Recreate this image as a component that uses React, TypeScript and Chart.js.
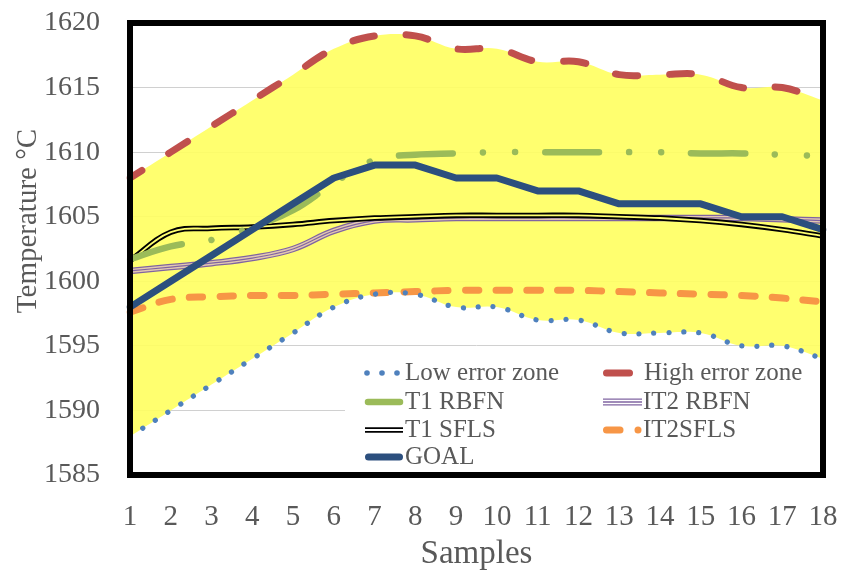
import React, { useEffect, useRef } from "react";
import { Chart, registerables } from "chart.js";

Chart.register(...registerables);

// ---------- data ----------
const samples = ["1", "2", "3", "4", "5", "6", "7", "8", "9", "10", "11", "12", "13", "14", "15", "16", "17", "18"];
const yMin = 1585;
const yMax = 1620;
const yStep = 5;

const lowErrorZone = [1588, 1590, 1592, 1594, 1596, 1598, 1599, 1599, 1598, 1598, 1597, 1597, 1596, 1596, 1596, 1595, 1595, 1594];
const highErrorZone = [1608, 1610, 1612, 1614, 1616, 1618, 1619, 1619, 1618, 1618, 1617, 1617, 1616, 1616, 1616, 1615, 1615, 1614];
const t1Rbfn = [1601.7, 1602.7, 1603.2, 1604.2, 1605.5, 1607.6, 1609.4, 1609.8, 1609.9, 1610, 1610, 1610, 1610, 1610, 1609.9, 1609.9, 1609.8, 1609.7];
const it2Rbfn = [1600.8, 1601.1, 1601.4, 1601.8, 1602.5, 1603.9, 1604.7, 1604.8, 1604.9, 1604.9, 1604.9, 1604.9, 1604.9, 1604.9, 1604.9, 1604.9, 1604.8, 1604.7];
const t1Sfls = [1601.6, 1603.8, 1604.1, 1604.2, 1604.4, 1604.7, 1604.9, 1605.0, 1605.1, 1605.1, 1605.1, 1605.1, 1605.0, 1604.9, 1604.7, 1604.4, 1604.0, 1603.5];
const it2Sfls = [1597.6, 1598.6, 1598.8, 1598.9, 1598.9, 1599.0, 1599.1, 1599.2, 1599.3, 1599.3, 1599.3, 1599.3, 1599.2, 1599.1, 1599.0, 1598.9, 1598.7, 1598.4];
const goal = [1598, 1600, 1602, 1604, 1606, 1608, 1609, 1609, 1608, 1608, 1607, 1607, 1606, 1606, 1606, 1605, 1605, 1604];

const legendLabels = ["Low error zone", "High error zone", "T1 RBFN", "IT2 RBFN", "T1 SFLS", "IT2SFLS", "GOAL"];
const yTitle = "Temperature °C";
const xTitle = "Samples";

// ---------- style ----------
const FONT = "'Liberation Serif', 'Times New Roman', serif";
const TEXT = "#595959";
const YELLOW = "#FFFF70";
const YELLOW_FILL = "rgba(255, 255, 95, 0.9)";
const BLUE_DOT = "#4F81BD";
const RED = "#C0504D";
const GREEN = "#9BBB59";
const PURPLE = "#8064A2";
const PURPLE_LIGHT = "#E3C9B0";
const BLACK = "#000000";
const ORANGE = "#F79646";
const NAVY = "#2C4F7E";

const legendPlugin = {
  id: "customLegend",
  afterDatasetsDraw(chart: any) {
    const ctx = chart.ctx;
    const area = chart.chartArea;
    const boxLeft = 345;
    const boxTop = 360;
    ctx.save();
    ctx.fillStyle = "#ffffff";
    ctx.fillRect(boxLeft, boxTop, area.right - boxLeft, area.bottom - boxTop);

    const rows = [373, 402, 430, 457];
    const col1 = 365;
    const col2 = 603;
    const text1 = 405;
    const text2 = 644;

    const line = (x1: number, x2: number, y: number, w: number, c: string, cap: CanvasLineCap) => {
      ctx.beginPath();
      ctx.lineCap = cap;
      ctx.lineWidth = w;
      ctx.strokeStyle = c;
      ctx.moveTo(x1, y);
      ctx.lineTo(x2, y);
      ctx.stroke();
    };
    const dot = (x: number, y: number, r: number, c: string) => {
      ctx.beginPath();
      ctx.fillStyle = c;
      ctx.arc(x, y, r, 0, Math.PI * 2);
      ctx.fill();
    };

    // Low error zone
    dot(col1 + 2, rows[0], 2.8, BLUE_DOT);
    dot(col1 + 17, rows[0], 2.8, BLUE_DOT);
    dot(col1 + 32, rows[0], 2.8, BLUE_DOT);
    // High error zone
    line(col2 + 3.5, col2 + 26.5, rows[0], 7, RED, "round");
    // T1 RBFN
    line(col1 + 3, col1 + 35, rows[1], 6.5, GREEN, "round");
    // IT2 RBFN
    line(col2, col2 + 39, rows[1], 7, PURPLE, "butt");
    line(col2, col2 + 39, rows[1], 4.4, "#ffffff", "butt");
    line(col2, col2 + 39, rows[1], 1.3, PURPLE, "butt");
    // T1 SFLS
    line(col1, col1 + 38, rows[2], 5.5, BLACK, "butt");
    line(col1, col1 + 38, rows[2], 1.8, "#ffffff", "butt");
    // IT2SFLS
    line(col2 + 3.5, col2 + 17, rows[2], 7, ORANGE, "round");
    dot(col2 + 35, rows[2], 3.5, ORANGE);
    // GOAL
    line(col1 + 3.5, col1 + 34.5, rows[3], 7, NAVY, "round");

    ctx.font = `25px ${FONT}`;
    ctx.fillStyle = TEXT;
    ctx.textAlign = "left";
    ctx.textBaseline = "middle";
    ctx.fillText(legendLabels[0], text1, rows[0]);
    ctx.fillText(legendLabels[1], text2, rows[0]);
    ctx.fillText(legendLabels[2], text1, rows[1]);
    ctx.fillText(legendLabels[3], text2 - 1, rows[1]);
    ctx.fillText(legendLabels[4], text1, rows[2]);
    ctx.fillText(legendLabels[5], text2 - 1, rows[2]);
    ctx.fillText(legendLabels[6], text1, rows[3]);
    ctx.restore();
  },
};

const borderPlugin = {
  id: "plotBorder",
  afterDraw(chart: any) {
    const { ctx, chartArea: a } = chart;
    ctx.save();
    ctx.strokeStyle = "#000000";
    ctx.lineWidth = 6;
    ctx.lineJoin = "miter";
    ctx.strokeRect(a.left, a.top, a.right - a.left, a.bottom - a.top);
    // y-axis title
    ctx.translate(28, 221);
    ctx.rotate(-Math.PI / 2);
    ctx.font = `29px ${FONT}`;
    ctx.fillStyle = TEXT;
    ctx.textAlign = "center";
    ctx.textBaseline = "middle";
    ctx.fillText(yTitle, 0, 0);
    ctx.restore();
  },
};

export default function App() {
  const ref = useRef<HTMLCanvasElement>(null);

  useEffect(() => {
    if (!ref.current) return;
    const chart = new Chart(ref.current, {
      type: "line",
      data: {
        labels: samples,
        datasets: [
          {
            label: legendLabels[0],
            data: lowErrorZone,
            borderColor: BLUE_DOT,
            borderWidth: 5.3,
            borderDash: [0.01, 15],
            borderCapStyle: "round",
            tension: 0.4,
            fill: false,
            order: 4,
          },
          {
            label: legendLabels[1],
            data: highErrorZone,
            borderColor: RED,
            backgroundColor: YELLOW_FILL,
            borderWidth: 7,
            borderDash: [22, 32],
            borderDashOffset: 8,
            borderCapStyle: "round",
            tension: 0.4,
            fill: "-1",
            order: 10,
          },
          {
            label: legendLabels[2],
            data: t1Rbfn,
            borderColor: GREEN,
            borderWidth: 6.5,
            borderDash: [54, 30, 0.01, 32, 0.01, 30],
            borderCapStyle: "round",
            tension: 0.4,
            fill: false,
            order: 6,
          },
          {
            label: legendLabels[3],
            data: it2Rbfn,
            borderColor: PURPLE,
            borderWidth: 6.5,
            tension: 0.4,
            fill: false,
            order: 8,
          },
          {
            label: legendLabels[3] + " inner",
            data: it2Rbfn,
            borderColor: PURPLE_LIGHT,
            borderWidth: 4,
            tension: 0.4,
            fill: false,
            order: 7.9,
          },
          {
            label: legendLabels[3] + " core",
            data: it2Rbfn,
            borderColor: PURPLE,
            borderWidth: 1.2,
            tension: 0.4,
            fill: false,
            order: 7.8,
          },
          {
            label: legendLabels[4],
            data: t1Sfls,
            borderColor: BLACK,
            borderWidth: 5.5,
            tension: 0.4,
            fill: false,
            order: 7,
          },
          {
            label: legendLabels[4] + " inner",
            data: t1Sfls,
            borderColor: YELLOW,
            borderWidth: 1.8,
            tension: 0.4,
            fill: false,
            order: 6.9,
          },
          {
            label: legendLabels[5],
            data: it2Sfls,
            borderColor: ORANGE,
            borderWidth: 7,
            borderDash: [13.5, 17.2],
            borderCapStyle: "round",
            tension: 0.4,
            fill: false,
            order: 5,
          },
          {
            label: legendLabels[6],
            data: goal,
            borderColor: NAVY,
            borderWidth: 7,
            borderCapStyle: "round",
            borderJoinStyle: "round",
            tension: 0,
            fill: false,
            order: 1,
          },
        ],
      },
      options: {
        responsive: false,
        animation: false,
        layout: { padding: { top: 23, right: 30, left: 0, bottom: 0 } },
        elements: { point: { radius: 0, hoverRadius: 0 } },
        plugins: {
          legend: { display: false },
          tooltip: { enabled: false },
          filler: { drawTime: "beforeDatasetsDraw", propagate: false },
        } as any,
        scales: {
          x: {
            type: "category",
            offset: false,
            grid: { display: false, drawTicks: true, tickLength: 25, tickColor: "rgba(0,0,0,0)" },
            border: { display: false },
            ticks: {
              font: { family: FONT, size: 29 },
              color: TEXT,
              padding: 0,
              autoSkip: false,
              maxRotation: 0,
            },
            title: {
              display: true,
              text: xTitle,
              font: { family: FONT, size: 33 },
              color: TEXT,
              padding: { top: 0, bottom: 3 },
            },
            afterFit: (s: any) => {
              s.height = 102;
            },
          },
          y: {
            min: yMin,
            max: yMax,
            ticks: {
              stepSize: yStep,
              font: { family: FONT, size: 28 },
              color: TEXT,
              padding: 0,
              callback: (v: any) => String(v),
            },
            grid: { color: "#d0d0d0", lineWidth: 1, drawTicks: true, tickLength: 30, tickColor: "rgba(0,0,0,0)" },
            border: { display: false },
            title: { display: false },
            afterFit: (s: any) => {
              s.width = 130;
            },
          },
        },
      },
      plugins: [legendPlugin, borderPlugin],
    } as any);
    return () => chart.destroy();
  }, []);

  return (
    <div style={{ position: "absolute", left: 0, top: 0, width: 853, height: 577, background: "#ffffff" }}>
      <canvas ref={ref} width={853} height={577} style={{ display: "block" }} />
    </div>
  );
}
